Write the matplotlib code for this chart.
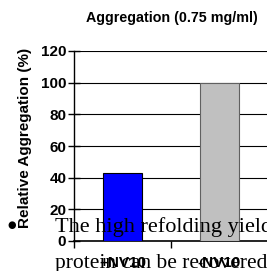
import matplotlib.pyplot as plt
from matplotlib.ticker import FixedLocator

# Data
categories = ['+NV10', '-NV10']
values = [43, 100]
colors = ['#0000FF', '#C0C0C0']
edges = ['#000000', '#606060']
yticks = [0, 20, 40, 60, 80, 100, 120]

plt.rcParams['font.family'] = ['Liberation Sans', 'DejaVu Sans']

fig = plt.figure(figsize=(2.67, 2.71), dpi=100)
ax = fig.add_axes([74/267, 30/271, 194/267, 190/271])

x = range(len(categories))
ax.bar(x, values, width=0.4, color=colors, edgecolor=edges, linewidth=0.8, zorder=3)

ax.set_xlim(-0.5, 1.5)
ax.set_ylim(0, 120)
ax.set_yticks(yticks)
ax.set_yticklabels([str(t) for t in yticks], fontsize=11, fontweight='bold')
ax.yaxis.grid(True, color='black', linewidth=0.8, zorder=0)

ax.set_xticks(list(x))
ax.set_xticklabels(categories, fontsize=11, fontweight='bold')
ax.tick_params(axis='x', length=0, pad=11)
ax.xaxis.set_minor_locator(FixedLocator([-0.5, 0.5, 1.5]))
ax.tick_params(axis='x', which='minor', length=5, width=1, direction='out')
ax.tick_params(axis='y', length=9, width=1, direction='inout', pad=1)

for s in ['top', 'right']:
    ax.spines[s].set_visible(False)
ax.spines['left'].set_linewidth(1)
ax.spines['bottom'].set_linewidth(1.2)

ax.set_ylabel('Relative Aggregation (%)', fontsize=11, fontweight='bold')
ax.yaxis.set_label_coords(-0.216, 0.545)
fig.text(172/267, 1 - 18/271, 'Aggregation (0.75 mg/ml)', fontsize=10.3, fontweight='bold',
         ha='center', va='center')

# overlapping document text
fig.text(12/267, 1 - 225/271, '\u25cf', fontsize=7, ha='center', va='center', family='DejaVu Sans')
fig.text(55/267, 1 - 232/271, 'The high refolding yield', fontsize=16,
         family='Liberation Serif', ha='left', va='baseline')
fig.text(55/267, 1 - 268/271, 'protein can be recovered', fontsize=15.5,
         family='Liberation Serif', ha='left', va='baseline')

fig.savefig('out.png', dpi=100)
